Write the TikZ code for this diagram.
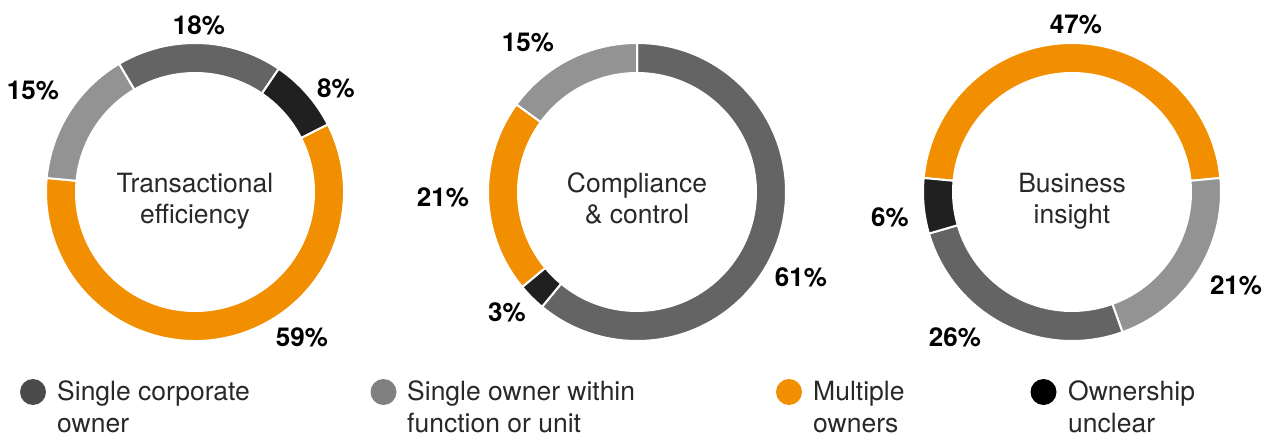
\documentclass[tikz,border=0pt]{standalone}
\usepackage{fontspec}
\setmainfont{TeX Gyre Heros}
\usepackage{tikz}
\definecolor{pwcorange}{RGB}{241,143,0}
\definecolor{darkseg}{RGB}{100,100,100}
\definecolor{lightseg}{RGB}{147,147,147}
\definecolor{blackseg}{RGB}{32,32,32}
\definecolor{darkdot}{RGB}{75,75,75}
\definecolor{lightdot}{RGB}{128,128,128}
\definecolor{textgrey}{RGB}{40,40,40}
\tikzset{
  ringpart/.style={
    draw=white,
    line width=2pt},
  pctlabel/.style={
    font=\fontsize{26}{30}\selectfont\bfseries,
    inner sep=0pt},
  centertext/.style={
    align=center,
    text=textgrey,
    font=\fontsize{26.5}{31}\selectfont,
    inner sep=0pt,
    anchor=base},
  legenddot/.style={
    circle,
    minimum size=26pt,
    inner sep=0pt},
  legendtext/.style={
    align=left,
    text=textgrey,
    font=\fontsize{26.5}{32}\selectfont,
    inner sep=0pt,
    anchor=base west},
}

\begin{document}
\begin{tikzpicture}[x=1pt,y=1pt]
  \useasboundingbox (0,0) rectangle (1272,437);
  % rings: centre x / start / end / colour
  \foreach \cx/\s/\e/\col in {
      195/27/-185.4/pwcorange, 195/-185.4/-239.4/lightseg,
      195/-239.4/-304.2/darkseg, 195/-304.2/-333/blackseg,
      637/90/-129.6/darkseg, 637/-129.6/-140.4/blackseg,
      637/-140.4/-216/pwcorange, 637/-216/-270/lightseg,
      1072/174.6/5.4/pwcorange, 1072/5.4/-70.2/lightseg,
      1072/-70.2/-163.8/darkseg, 1072/-163.8/-185.4/blackseg}
  {
    \begin{scope}[shift={(\cx,245)}]
      \filldraw[ringpart, fill=\col] (\s:149) arc[start angle=\s, end angle=\e, radius=149]
        -- (\e:119) arc[start angle=\e, end angle=\s, radius=119] -- cycle;
    \end{scope}
  }

  % base anchor sits on the last line
  \node[centertext] (tetitle) at (195,213) {Transactional\\efficiency};
  \node[centertext] (cctitle) at (637,213) {Compliance\\\& control};
  \node[centertext] (bititle) at (1072,213) {Business\\insight};

  % percentages
  \node[pctlabel] (te18) at (199,412) {18\%};
  \node[pctlabel] (te8) at (336,349) {8\%};
  \node[pctlabel] (te15) at (33,346) {15\%};
  \node[pctlabel] (te59) at (302,100) {59\%};
  \node[pctlabel] (cc15) at (528,394) {15\%};
  \node[pctlabel] (cc21) at (443,240) {21\%};
  \node[pctlabel] (cc3) at (507,125) {3\%};
  \node[pctlabel] (cc61) at (801,160) {61\%};
  \node[pctlabel] (bi47) at (1076,412) {47\%};
  \node[pctlabel] (bi6) at (890,220) {6\%};
  \node[pctlabel] (bi21) at (1236,152) {21\%};
  \node[pctlabel] (bi26) at (955,100) {26\%};

  % legend
  \node[legenddot, fill=darkdot] (dot1) at (33,45) {};
  \node[legendtext] (leg1) at (57,5) {Single corporate\\owner};
  \node[legenddot, fill=lightdot] (dot2) at (383.5,45) {};
  \node[legendtext] (leg2) at (407,5) {Single owner within\\function or unit};
  \node[legenddot, fill=pwcorange] (dot3) at (789,45) {};
  \node[legendtext] (leg3) at (813,5) {Multiple\\owners};
  \node[legenddot, fill=black] (dot4) at (1043.5,45) {};
  \node[legendtext] (leg4) at (1068,5) {Ownership\\unclear};
\end{tikzpicture}
\end{document}
